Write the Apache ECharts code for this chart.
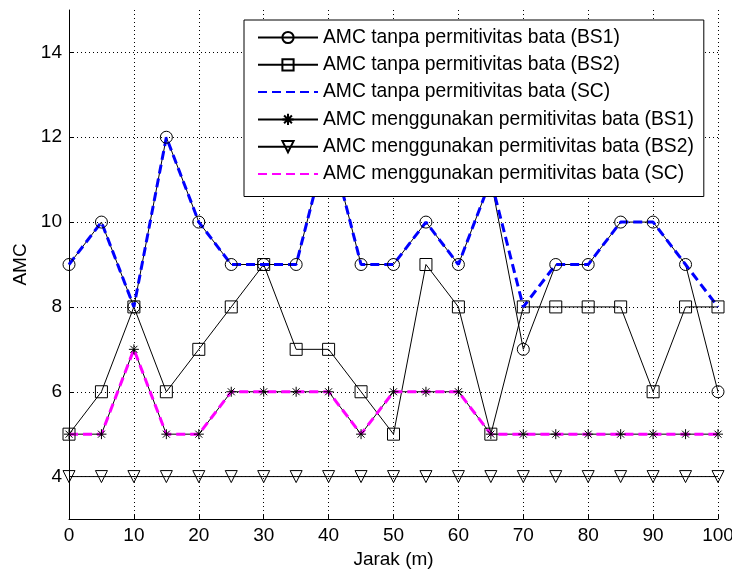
<!DOCTYPE html>
<html>
<head>
<meta charset="utf-8">
<script src="https://cdn.jsdelivr.net/npm/echarts@6/dist/echarts.min.js"></script>
<style>html,body{margin:0;padding:0;background:#fff;}#c{width:732px;height:575px;}</style>
</head>
<body>
<div id="c"></div>
<script>
const distances = [0,5,10,15,20,25,30,35,40,45,50,55,60,65,70,75,80,85,90,95,100];
const bs1Tanpa  = [9,10,8,12,10,9,9,9,12,9,9,10,9,11,7,9,9,10,10,9,6];
const bs2Tanpa  = [5,6,8,6,7,8,9,7,7,6,5,9,8,5,8,8,8,8,6,8,8];
const scTanpa   = [9,10,8,12,10,9,9,9,12,9,9,10,9,11,8,9,9,10,10,9,8];
const bs1Dengan = [5,5,7,5,5,6,6,6,6,5,6,6,6,5,5,5,5,5,5,5,5];
const bs2Dengan = [4,4,4,4,4,4,4,4,4,4,4,4,4,4,4,4,4,4,4,4,4];
const scDengan  = [5,5,7,5,5,6,6,6,6,5,6,6,6,5,5,5,5,5,5,5,5];
const yTicks = [4,6,8,10,12,14];
const names = [
  'AMC tanpa permitivitas bata (BS1)',
  'AMC tanpa permitivitas bata (BS2)',
  'AMC tanpa permitivitas bata (SC)',
  'AMC menggunakan permitivitas bata (BS1)',
  'AMC menggunakan permitivitas bata (BS2)',
  'AMC menggunakan permitivitas bata (SC)'
];

const pairs = arr => distances.map((x, i) => [x, arr[i]]);
const FONT = '"Liberation Sans", Arial, sans-serif';
const FS = 19;
const starPath = 'path://M5,0L5,10M0,5L10,5M1.5,1.5L8.5,8.5M1.5,8.5L8.5,1.5';

function blackSeries(name, arr, symbol, size, rotate) {
  return {
    name, type: 'line', data: pairs(arr),
    symbol, symbolSize: size, symbolRotate: rotate || 0,
    lineStyle: { color: '#000', width: 1 },
    itemStyle: { color: 'rgba(0,0,0,0)', borderColor: '#000', borderWidth: 1 },
    emphasis: { disabled: true }, animation: false
  };
}
function dashSeries(name, arr, color) {
  return {
    name, type: 'line', data: pairs(arr), symbol: 'none',
    lineStyle: { color, width: 3, type: [9, 5] },
    itemStyle: { color },
    emphasis: { disabled: true }, animation: false
  };
}

const chart = echarts.init(document.getElementById('c'), null, { renderer: 'canvas' });
chart.setOption({
  backgroundColor: '#fff',
  animation: false,
  textStyle: { fontFamily: FONT },
  grid: { left: 69, right: 14, top: 10, bottom: 56, containLabel: false, outerBoundsMode: 'none' },
  xAxis: {
    type: 'value', min: 0, max: 100, interval: 10,
    name: 'Jarak (m)', nameLocation: 'middle', nameGap: 27,
    nameTextStyle: { color: '#000', fontSize: FS, fontFamily: FONT },
    axisLine: { show: true, lineStyle: { color: '#000', width: 1 } },
    axisTick: { show: true, inside: true, length: 5, lineStyle: { color: '#000' } },
    axisLabel: { color: '#000', fontSize: FS, margin: 7, fontFamily: FONT, hideOverlap: false },
    splitLine: { show: true, lineStyle: { color: '#000', width: 1, type: [1, 3] } }
  },
  yAxis: {
    type: 'value', min: 3, max: 15,
    name: 'AMC', nameLocation: 'middle', nameGap: 37,
    nameTextStyle: { color: '#000', fontSize: FS, fontFamily: FONT },
    axisLine: { show: true, lineStyle: { color: '#000', width: 1 } },
    axisTick: { show: true, inside: true, length: 5, customValues: yTicks, lineStyle: { color: '#000' } },
    axisLabel: { color: '#000', fontSize: FS, margin: 7, customValues: yTicks, fontFamily: FONT },
    splitLine: { show: true, lineStyle: { color: '#000', width: 1, type: [1, 3] } }
  },
  legend: {
    orient: 'vertical', left: 244, top: 20,
    padding: [8, 10, 13, 13],
    backgroundColor: '#fff', borderColor: '#000', borderWidth: 1,
    itemWidth: 60, itemHeight: 14, itemGap: 8.3,
    textStyle: { color: '#000', fontSize: 19.3, lineHeight: 19, fontFamily: FONT },
    data: names.map((n, i) => (i === 2 || i === 5) ? { name: n, itemStyle: { opacity: 0 } } : { name: n })
  },
  series: [
    blackSeries(names[0], bs1Tanpa, 'circle', 12),
    blackSeries(names[1], bs2Tanpa, 'rect', 12),
    dashSeries(names[2], scTanpa, '#0000ff'),
    blackSeries(names[3], bs1Dengan, starPath, 10),
    blackSeries(names[4], bs2Dengan, 'triangle', 12, 180),
    dashSeries(names[5], scDengan, '#ff00ff')
  ]
});
</script>
</body>
</html>
